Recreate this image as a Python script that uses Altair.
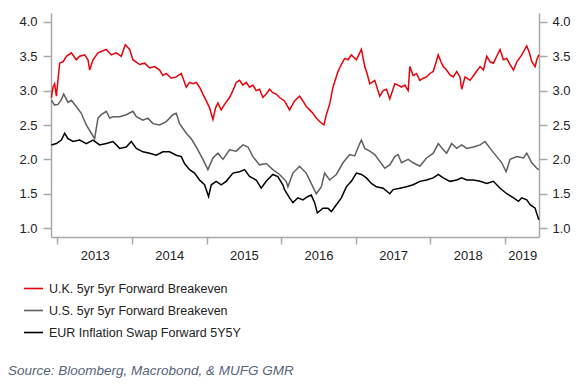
import altair as alt
import pandas as pd

# ---- data (decimal years, percent) ----
uk_t = [2012.920, 2012.942, 2012.964, 2012.987, 2013.031, 2013.076, 2013.121, 2013.188, 2013.254, 2013.299,
        2013.366, 2013.411, 2013.433, 2013.478, 2013.545, 2013.612, 2013.656, 2013.723, 2013.790, 2013.857,
        2013.911, 2013.969, 2014.013, 2014.103, 2014.170, 2014.237, 2014.304, 2014.371, 2014.415, 2014.460,
        2014.527, 2014.594, 2014.661, 2014.705, 2014.728, 2014.772, 2014.817, 2014.862, 2014.906, 2014.951,
        2014.996, 2015.040, 2015.085, 2015.121, 2015.152, 2015.196, 2015.241, 2015.308, 2015.353, 2015.397,
        2015.442, 2015.487, 2015.531, 2015.576, 2015.621, 2015.665, 2015.710, 2015.754, 2015.799, 2015.844,
        2015.888, 2015.933, 2015.978, 2016.045, 2016.112, 2016.179, 2016.246, 2016.291, 2016.336, 2016.381,
        2016.425, 2016.470, 2016.515, 2016.573, 2016.605, 2016.649, 2016.694, 2016.761, 2016.806, 2016.851,
        2016.896, 2016.940, 2017.008, 2017.075, 2017.120, 2017.151, 2017.187, 2017.254, 2017.321, 2017.366,
        2017.411, 2017.455, 2017.523, 2017.567, 2017.612, 2017.657, 2017.702, 2017.724, 2017.769, 2017.814,
        2017.858, 2017.903, 2017.948, 2017.993, 2018.038, 2018.105, 2018.141, 2018.172, 2018.217, 2018.262,
        2018.307, 2018.352, 2018.396, 2018.419, 2018.464, 2018.531, 2018.597, 2018.665, 2018.710, 2018.755,
        2018.800, 2018.844, 2018.889, 2018.933, 2018.978, 2019.023, 2019.068, 2019.113, 2019.158, 2019.224,
        2019.291, 2019.327, 2019.358, 2019.403, 2019.425, 2019.453]
uk_v = [2.90, 3.05, 3.10, 2.92, 3.40, 3.42, 3.50, 3.55, 3.45, 3.50,
        3.52, 3.45, 3.30, 3.45, 3.55, 3.58, 3.60, 3.52, 3.55, 3.50,
        3.67, 3.60, 3.45, 3.38, 3.40, 3.33, 3.35, 3.30, 3.22, 3.25,
        3.18, 3.20, 3.25, 3.12, 3.05, 3.12, 3.10, 3.12, 3.05, 2.95,
        2.85, 2.75, 2.58, 2.75, 2.82, 2.72, 2.80, 2.90, 3.00, 3.12,
        3.15, 3.08, 3.12, 3.05, 3.08, 3.00, 3.02, 2.90, 2.95, 3.02,
        2.97, 2.95, 2.90, 2.85, 2.72, 2.85, 2.92, 2.85, 2.77, 2.72,
        2.67, 2.60, 2.55, 2.50, 2.65, 2.80, 3.05, 3.28, 3.38, 3.47,
        3.45, 3.52, 3.45, 3.60, 3.35, 3.25, 3.10, 3.15, 2.92, 3.00,
        3.02, 2.88, 3.10, 3.08, 3.05, 3.08, 3.00, 3.35, 3.22, 3.25,
        3.15, 3.18, 3.20, 3.25, 3.28, 3.52, 3.42, 3.35, 3.30, 3.23,
        3.20, 3.28, 3.20, 3.02, 3.20, 3.15, 3.25, 3.35, 3.30, 3.50,
        3.42, 3.40, 3.50, 3.60, 3.45, 3.47, 3.38, 3.30, 3.42, 3.52,
        3.65, 3.55, 3.42, 3.35, 3.45, 3.52]

us_t = [2012.920, 2012.964, 2013.009, 2013.054, 2013.085, 2013.143, 2013.188, 2013.254, 2013.321, 2013.388,
        2013.455, 2013.500, 2013.522, 2013.545, 2013.589, 2013.656, 2013.701, 2013.746, 2013.835, 2013.924,
        2014.013, 2014.058, 2014.147, 2014.214, 2014.281, 2014.371, 2014.460, 2014.549, 2014.594, 2014.638,
        2014.728, 2014.795, 2014.862, 2014.951, 2015.018, 2015.085, 2015.152, 2015.219, 2015.308, 2015.397,
        2015.487, 2015.554, 2015.621, 2015.710, 2015.799, 2015.888, 2015.978, 2016.067, 2016.090, 2016.157,
        2016.246, 2016.336, 2016.425, 2016.470, 2016.537, 2016.582, 2016.649, 2016.739, 2016.828, 2016.918,
        2016.985, 2017.052, 2017.075, 2017.120, 2017.187, 2017.254, 2017.321, 2017.388, 2017.455, 2017.523,
        2017.567, 2017.612, 2017.702, 2017.769, 2017.858, 2017.948, 2018.038, 2018.105, 2018.172, 2018.217,
        2018.284, 2018.352, 2018.419, 2018.486, 2018.575, 2018.665, 2018.732, 2018.800, 2018.889, 2018.956,
        2019.014, 2019.068, 2019.158, 2019.247, 2019.291, 2019.358, 2019.426, 2019.453]
us_v = [2.86, 2.79, 2.80, 2.87, 2.95, 2.83, 2.86, 2.77, 2.67, 2.50,
        2.38, 2.30, 2.45, 2.60, 2.65, 2.70, 2.60, 2.62, 2.62, 2.65,
        2.70, 2.62, 2.57, 2.60, 2.52, 2.50, 2.55, 2.65, 2.67, 2.52,
        2.38, 2.30, 2.18, 2.00, 1.85, 2.02, 2.09, 2.00, 2.14, 2.12,
        2.21, 2.18, 2.04, 1.92, 1.94, 1.85, 1.78, 1.68, 1.60, 1.80,
        1.90, 1.80, 1.60, 1.50, 1.60, 1.80, 1.70, 1.78, 1.95, 2.07,
        2.05, 2.23, 2.28, 2.16, 2.12, 2.07, 1.97, 1.87, 1.92, 2.04,
        2.07, 1.95, 2.00, 1.95, 1.90, 2.02, 2.09, 2.23, 2.14, 2.09,
        2.23, 2.16, 2.21, 2.16, 2.18, 2.21, 2.26, 2.16, 2.04, 1.95,
        1.82, 2.00, 2.04, 2.02, 2.09, 1.95, 1.87, 1.85]

eur_t = [2012.920, 2012.987, 2013.054, 2013.098, 2013.143, 2013.210, 2013.299, 2013.388, 2013.478, 2013.567,
         2013.656, 2013.746, 2013.835, 2013.924, 2013.991, 2014.058, 2014.147, 2014.237, 2014.326, 2014.415,
         2014.504, 2014.594, 2014.661, 2014.705, 2014.772, 2014.839, 2014.906, 2014.973, 2015.027, 2015.063,
         2015.129, 2015.196, 2015.263, 2015.353, 2015.442, 2015.509, 2015.576, 2015.665, 2015.732, 2015.799,
         2015.888, 2015.955, 2016.022, 2016.045, 2016.112, 2016.157, 2016.224, 2016.291, 2016.358, 2016.403,
         2016.448, 2016.484, 2016.560, 2016.627, 2016.672, 2016.739, 2016.806, 2016.873, 2016.940, 2017.008,
         2017.075, 2017.142, 2017.209, 2017.276, 2017.366, 2017.455, 2017.500, 2017.590, 2017.679, 2017.769,
         2017.858, 2017.948, 2018.038, 2018.105, 2018.172, 2018.262, 2018.352, 2018.419, 2018.486, 2018.575,
         2018.665, 2018.755, 2018.844, 2018.933, 2019.023, 2019.113, 2019.180, 2019.224, 2019.291, 2019.336,
         2019.403, 2019.425, 2019.453]
eur_v = [2.21, 2.23, 2.28, 2.38, 2.30, 2.26, 2.28, 2.23, 2.28, 2.21,
         2.23, 2.26, 2.16, 2.18, 2.26, 2.16, 2.11, 2.09, 2.06, 2.11,
         2.11, 2.06, 2.04, 1.94, 1.85, 1.80, 1.70, 1.63, 1.46, 1.63,
         1.68, 1.63, 1.68, 1.80, 1.82, 1.85, 1.75, 1.70, 1.58, 1.68,
         1.78, 1.75, 1.63, 1.56, 1.44, 1.37, 1.44, 1.41, 1.46, 1.48,
         1.37, 1.22, 1.29, 1.29, 1.24, 1.34, 1.44, 1.60, 1.68, 1.80,
         1.78, 1.73, 1.65, 1.60, 1.58, 1.50, 1.56, 1.58, 1.60, 1.63,
         1.68, 1.70, 1.73, 1.78, 1.73, 1.68, 1.70, 1.73, 1.70, 1.70,
         1.68, 1.65, 1.68, 1.58, 1.50, 1.44, 1.39, 1.44, 1.41, 1.34,
         1.29, 1.21, 1.12]

series_names = ["U.K. 5yr 5yr Forward Breakeven",
                "U.S. 5yr 5yr Forward Breakeven",
                "EUR Inflation Swap Forward 5Y5Y"]
series_colors = ["#e8000b", "#5f5f5f", "#000000"]

year_ticks = [2013, 2014, 2015, 2016, 2017, 2018, 2019]
year_label_pos = [2013.5, 2014.5, 2015.5, 2016.5, 2017.5, 2018.5, 2019.23]
y_ticks = [1.0, 1.5, 2.0, 2.5, 3.0, 3.5, 4.0]
x_domain = [2012.915, 2019.455]
y_domain = [0.87, 4.13]

source_text = "Source: Bloomberg, Macrobond, & MUFG GMR"

rows = []
for name, ts, vs in zip(series_names, [uk_t, us_t, eur_t], [uk_v, us_v, eur_v]):
    for t, v in zip(ts, vs):
        rows.append({"t": t, "v": v, "series": name})
df = pd.DataFrame(rows)

FONT = "Liberation Sans"
AXIS_GRAY = "#a8a8a8"
LABEL_COLOR = "#222222"

x_scale = alt.Scale(domain=x_domain, nice=False, zero=False)
y_scale = alt.Scale(domain=y_domain, nice=False, zero=False)

lines = alt.Chart(df).mark_line(strokeWidth=1.5).encode(
    x=alt.X("t:Q", scale=x_scale, title=None,
            axis=alt.Axis(orient="bottom", values=year_ticks, labels=False, grid=False,
                          tickSize=7, tickColor=AXIS_GRAY, domainColor=AXIS_GRAY,
                          domainWidth=1.5, tickWidth=1.5)),
    y=alt.Y("v:Q", scale=y_scale, title=None,
            axis=alt.Axis(orient="left", values=y_ticks, format=".1f", grid=False,
                          tickSize=8, labelPadding=6, tickColor=AXIS_GRAY,
                          domainColor=AXIS_GRAY, domainWidth=1.5, tickWidth=1.5,
                          labelFontSize=13, labelColor=LABEL_COLOR, labelFont=FONT)),
    color=alt.Color("series:N", scale=alt.Scale(domain=series_names, range=series_colors),
                    legend=alt.Legend(title=None, orient="none", legendX=-28, legendY=265,
                                      direction="vertical", symbolType="stroke",
                                      symbolSize=361, symbolStrokeWidth=1.6,
                                      labelFontSize=12.5, labelFont=FONT, labelLimit=0,
                                      labelColor=LABEL_COLOR, labelOffset=5,
                                      rowPadding=5, padding=0)),
)

axes2 = alt.Chart(df).mark_line(opacity=0).encode(
    x=alt.X("t:Q", scale=x_scale, title=None,
            axis=alt.Axis(orient="bottom", values=year_label_pos, ticks=False, domain=False,
                          grid=False, labelExpr="'' + floor(datum.value)",
                          labelPadding=12, labelFontSize=13, labelColor=LABEL_COLOR,
                          labelFont=FONT, labelOverlap=False, labelFlush=False,
                          labelBound=False)),
    y=alt.Y("v:Q", scale=y_scale, title=None,
            axis=alt.Axis(orient="right", values=y_ticks, format=".1f", grid=False,
                          tickSize=8, labelPadding=5, tickColor=AXIS_GRAY,
                          domainColor=AXIS_GRAY, domainWidth=1.5, tickWidth=1.5,
                          labelFontSize=13, labelColor=LABEL_COLOR, labelFont=FONT)),
)

chart = alt.layer(lines, axes2).resolve_axis(x="independent", y="independent").properties(
    width=488, height=224,
    autosize=alt.AutoSizeParams(type="none"),
    padding={"left": 43, "top": 5, "right": 34, "bottom": 148},
    title=alt.TitleParams(text=source_text, orient="bottom", anchor="start", frame="group",
                          font=FONT, fontSize=13.5, fontStyle="italic", fontWeight="normal",
                          color="#56647a", dx=-43, offset=25),
).configure_view(stroke=None)

chart.save("out.html", embed_options={"renderer": "svg", "actions": False})
